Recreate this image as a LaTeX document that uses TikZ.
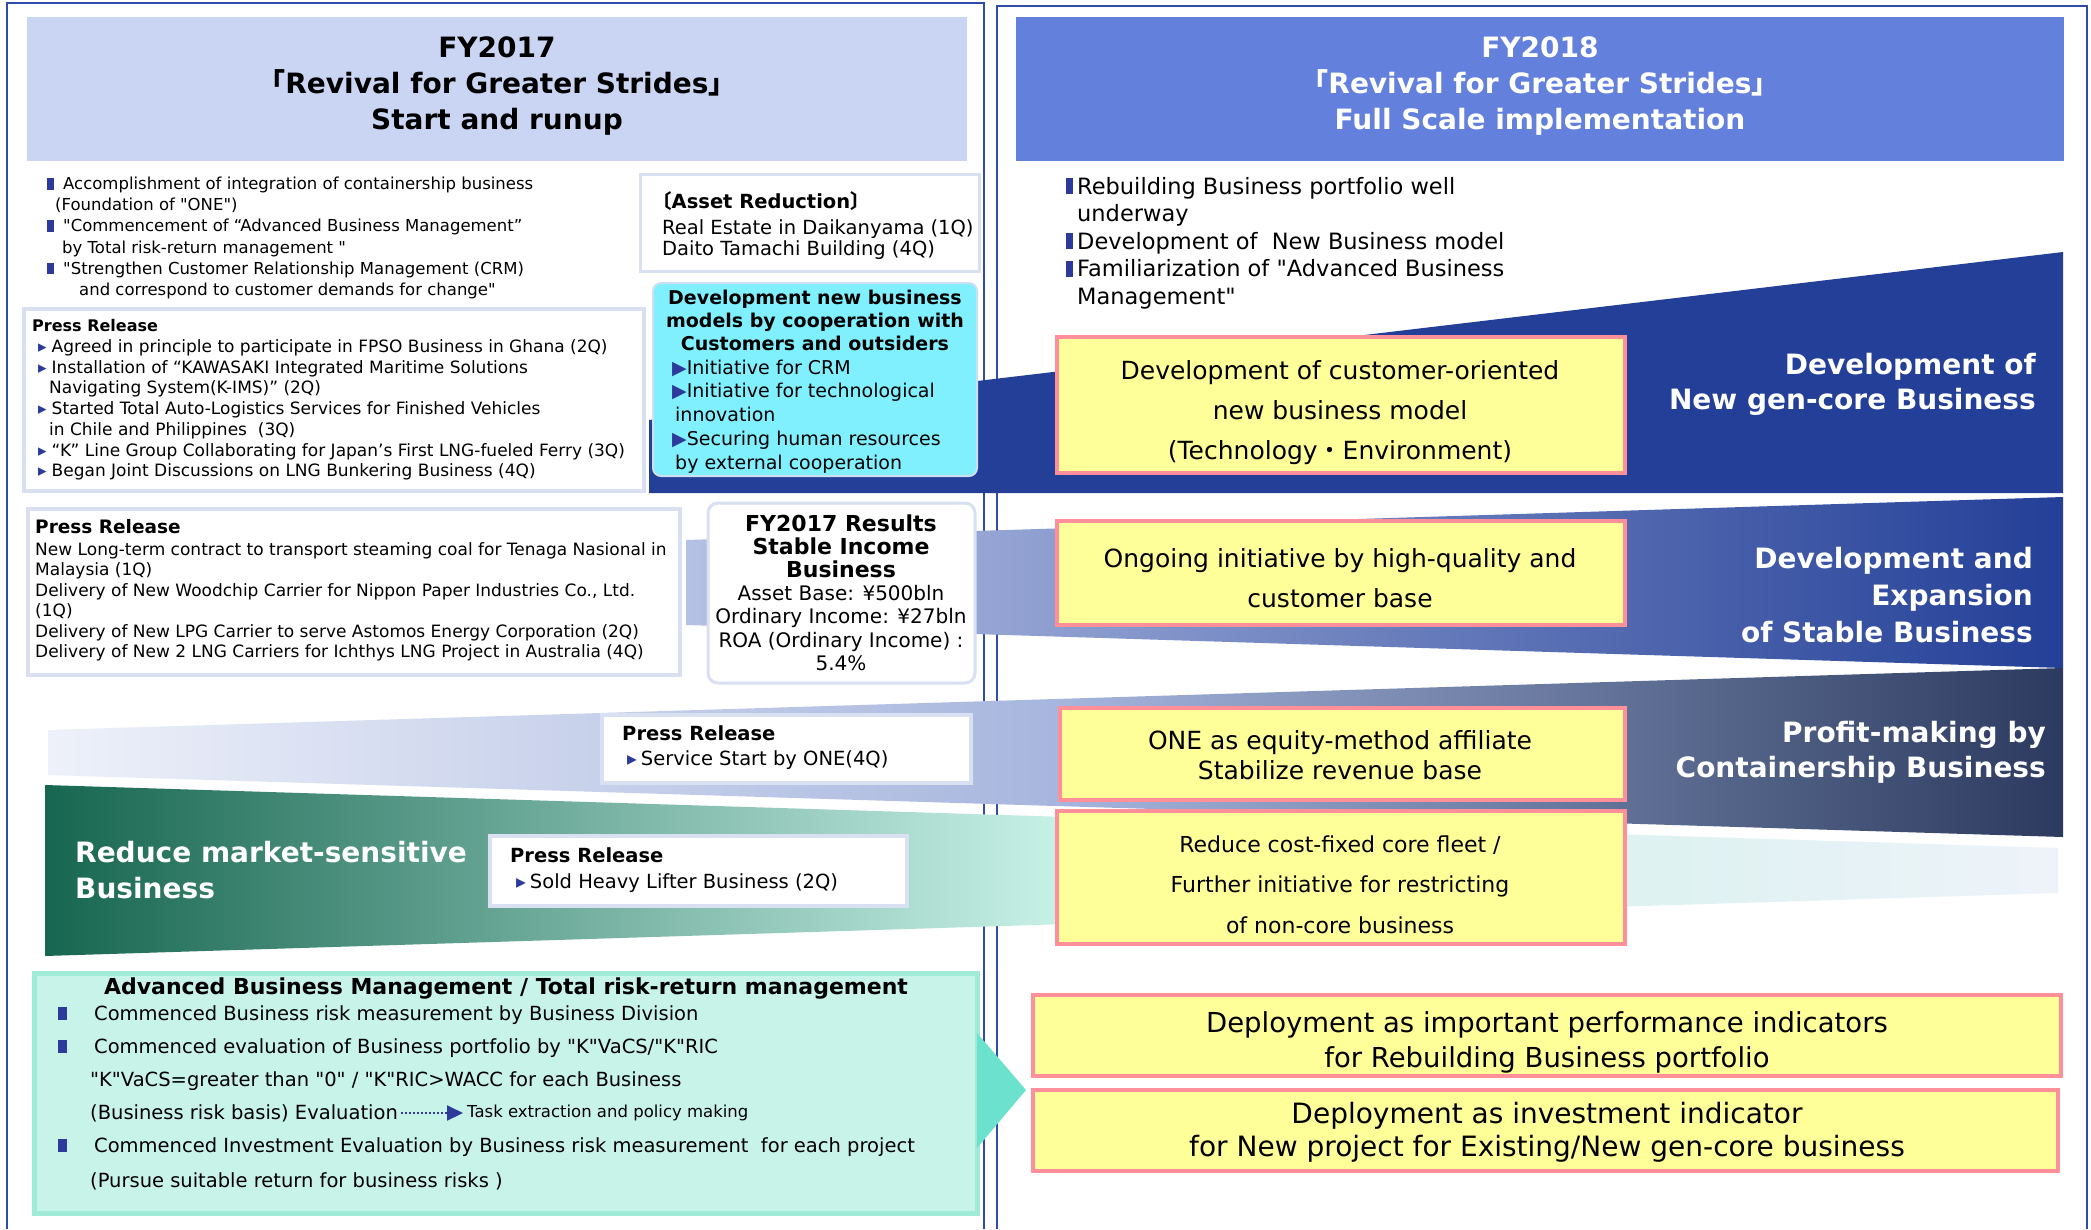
\documentclass[tikz,border=0pt]{standalone}
\usepackage{fontspec}
\setmainfont{DejaVu Sans}[Ligatures=TeXOff]
\newfontfamily\cjk{Noto Sans CJK JP}
\usetikzlibrary{arrows.meta,positioning}

\definecolor{frameblue}{HTML}{2F4CA8}
\definecolor{hdrlight}{HTML}{C9D5F2}
\definecolor{hdrdark}{HTML}{6380DD}
\definecolor{bulblue}{HTML}{2B3A9B}
\definecolor{prline}{HTML}{D8E0F1}
\definecolor{cyanfill}{HTML}{80F0FF}
\definecolor{cyanline}{HTML}{CDE0F2}
\definecolor{bandnew}{HTML}{233F97}
\definecolor{stabL}{HTML}{B4C0E4}
\definecolor{contL}{HTML}{EEF1FA}
\definecolor{contM}{HTML}{A7B6DE}
\definecolor{contR}{HTML}{2B3A5E}
\definecolor{redL}{HTML}{176650}
\definecolor{redM}{HTML}{C6F0E6}
\definecolor{redR}{HTML}{EEF3F9}
\definecolor{ylfill}{HTML}{FFFF99}
\definecolor{ylline}{HTML}{FF8F99}
\definecolor{advfill}{HTML}{C8F3E9}
\definecolor{advline}{HTML}{A0EAD8}
\definecolor{pointer}{HTML}{6CE1CD}

\newcommand{\fsz}[2]{\fontsize{#1}{#2}\selectfont}
\newcommand{\sqbul}[2]{{\color{bulblue}\rule{#1}{#2}}}
\newcommand{\prb}{{\color{bulblue}▸}}
\newcommand{\tri}{{\color{bulblue}▶}}

\begin{document}
\begin{tikzpicture}[x=1pt,y=-1pt,
  every node/.style={inner sep=0pt},
  frameln/.style={draw=frameblue,line width=1.5pt},
  hdrtxt/.style={align=center,font=\fsz{28}{36}\bfseries},
  prbox/.style={draw=prline,line width=4pt,fill=white},
  ybox/.style={draw=ylline,line width=4pt,fill=ylfill},
  ytxt/.style={align=center,font=\fsz{25}{40}},
  bandlbl/.style={text=white,font=\fsz{28}{35}\bfseries},
  dotarrow/.style={draw=bulblue,line width=2pt,dash pattern=on 2pt off 2pt,
    -{Triangle[length=16pt,width=15pt]}}]

  \useasboundingbox (0,0) rectangle (2091,1229);
  \fill[white] (0,0) rectangle (2091,1229);

  % Column frames
  \draw[frameln] (7,1229) -- (7,3) -- (984,3) -- (984,1229);
  \draw[frameln] (997,1229) -- (997,6) -- (2087,6) -- (2087,1229);

  % Headers
  \fill[hdrlight] (27,17) rectangle (967,161);
  \fill[hdrdark] (1016,17) rectangle (2064,161);
  \node[hdrtxt] (hdrL) at (497,86)
    {FY2017\\{\cjk 「}Revival for Greater Strides{\cjk 」}\\Start and runup};
  \node[hdrtxt,text=white] (hdrR) at (1540,86)
    {FY2018\\{\cjk 「}Revival for Greater Strides{\cjk 」}\\Full Scale implementation};

  % Bands (behind the boxes)
  \fill[bandnew] (649,420) -- (2063,252) -- (2063,493) -- (649,493) -- cycle;
  \shade[left color=stabL, right color=bandnew]
    (686,540) -- (2063,497) -- (2063,668) -- (686,625) -- cycle;
  \shade[left color=contL, right color=contR, middle color=contM]
    (48,730) -- (2063,668) -- (2063,837) -- (48,775) -- cycle;
  \shade[left color=redL, right color=redR, middle color=redM]
    (45,785) -- (2058,848) -- (2058,893) -- (45,956) -- cycle;

  % FY2017 summary
  \node[anchor=west,align=left,font=\fsz{16.5}{21.2}] (sumL) at (47,238)
    {\sqbul{7pt}{11.5pt}\hspace{9pt}Accomplishment of integration of containership business\\
     \hspace*{8pt}(Foundation of "ONE")\\
     \sqbul{7pt}{11.5pt}\hspace{9pt}"Commencement of “Advanced Business Management”\\
     \hspace*{15pt}by Total risk-return management "\\
     \sqbul{7pt}{11.5pt}\hspace{9pt}"Strengthen Customer Relationship Management (CRM)\\
     \hspace*{32pt}and correspond to customer demands for change"};

  % Press release (new business)
  \draw[prbox] (24,309) rectangle (644,491);
  \node[anchor=west,align=left,font=\fsz{17}{20.7}] (prNew) at (32,400)
    {{\fsz{16}{20.7}\bfseries Press Release}\\
     \hspace*{6pt}\prb\hspace{5pt}Agreed in principle to participate in FPSO Business in Ghana (2Q)\\
     \hspace*{6pt}\prb\hspace{5pt}Installation of “KAWASAKI Integrated Maritime Solutions\\
     \hspace*{17pt}Navigating System(K-IMS)” (2Q)\\
     \hspace*{6pt}\prb\hspace{5pt}Started Total Auto-Logistics Services for Finished Vehicles\\
     \hspace*{17pt}in Chile and Philippines\ \ (3Q)\\
     \hspace*{6pt}\prb\hspace{5pt}“K” Line Group Collaborating for Japan’s First LNG-fueled Ferry (3Q)\\
     \hspace*{6pt}\prb\hspace{5pt}Began Joint Discussions on LNG Bunkering Business (4Q)};

  % Asset reduction
  \draw[draw=prline,line width=3pt,fill=white] (640,174) rectangle (979,271);
  \node[anchor=west,align=left,font=\fsz{19.5}{21}] (asset) at (662,226)
    {\hspace*{-10pt}{\bfseries{\cjk 〔}Asset Reduction{\cjk 〕}}\\[5pt]
     Real Estate in Daikanyama (1Q)\\Daito Tamachi Building (4Q)};

  % Cooperation box
  \draw[draw=cyanline,line width=2pt,fill=cyanfill,rounded corners=8pt]
    (653,283) rectangle (977,476);
  \node[align=center,font=\fsz{19}{23}\bfseries] (coopT) at (815,320)
    {Development new business\\models by cooperation with\\Customers and outsiders};
  \node[anchor=west,align=left,font=\fsz{19}{23.75}] (coopI) at (672,416.5)
    {\tri Initiative for CRM\\\tri Initiative for technological\\
     \hspace*{3pt}innovation\\\tri Securing human resources\\
     \hspace*{3pt}by external cooperation};

  % FY2018 summary
  \node[anchor=west,align=left,font=\fsz{22.5}{27.5}] (sumR) at (1066,243)
    {\sqbul{7pt}{16pt}\hspace{4pt}Rebuilding Business portfolio well\\
     \hspace*{11pt}underway\\
     \sqbul{7pt}{16pt}\hspace{4pt}Development of\ \ New Business model\\
     \sqbul{7pt}{16pt}\hspace{4pt}Familiarization of "Advanced Business\\
     \hspace*{11pt}Management"};

  % Press release (stable business)
  \draw[prbox] (28,509) rectangle (680,675);
  \node[anchor=west,align=left,font=\fsz{17}{20.5}] (prStab) at (35,590)
    {{\fsz{18.5}{20.5}\bfseries Press Release}\\[1.5pt]
     New Long-term contract to transport steaming coal for Tenaga Nasional in\\
     Malaysia (1Q)\\
     Delivery of New Woodchip Carrier for Nippon Paper Industries Co., Ltd.\\
     (1Q)\\
     Delivery of New LPG Carrier to serve Astomos Energy Corporation (2Q)\\
     Delivery of New 2 LNG Carriers for Ichthys LNG Project in Australia (4Q)};

  % FY2017 results
  \draw[draw=prline,line width=3pt,fill=white,rounded corners=10pt]
    (708,503) rectangle (975,683);
  \node[align=center,font=\fsz{22}{23}\bfseries] (resT) at (841,546)
    {FY2017 Results\\Stable Income\\Business};
  \node[align=center,font=\fsz{20}{23.3}] (resV) at (841,628)
    {Asset Base: ¥500bln\\Ordinary Income: ¥27bln\\ROA (Ordinary Income) :\\5.4\%};

  % Press releases on the lower bands
  \draw[prbox] (602,715) rectangle (971,783);
  \node[anchor=west,align=left,font=\fsz{19.5}{25}] (prOne) at (622,747.5)
    {{\bfseries Press Release}\\\hspace*{5pt}\prb\hspace{4pt}Service Start by ONE(4Q)};
  \draw[prbox] (490,836) rectangle (907,906);
  \node[anchor=west,align=left,font=\fsz{19.5}{26}] (prLift) at (510,870)
    {{\bfseries Press Release}\\\hspace*{6pt}\prb\hspace{4pt}Sold Heavy Lifter Business (2Q)};

  % Yellow boxes
  \draw[ybox] (1057,337) rectangle (1625,473);
  \node[ytxt] (yNew) at (1340,413)
    {Development of customer-oriented\\new business model\\(Technology{\cjk ・}Environment)};
  \draw[ybox] (1057,521) rectangle (1625,625);
  \node[ytxt] (yStab) at (1340,578)
    {Ongoing initiative by high-quality and\\customer base};
  \draw[ybox] (1060,708) rectangle (1625,800);
  \node[ytxt,font=\fsz{25}{30}] (yOne) at (1340,755)
    {ONE as equity-method affiliate\\Stabilize revenue base};
  \draw[ybox] (1057,811) rectangle (1625,944);
  \node[ytxt,font=\fsz{22}{40.5}] (yCut) at (1340,884.5)
    {Reduce cost-fixed core fleet /\\Further initiative for restricting\\of non-core business};
  \draw[ybox] (1033,995) rectangle (2061,1076);
  \node[ytxt,font=\fsz{27.5}{35}] (yKpi) at (1547,1042.5)
    {Deployment as important performance indicators\\for Rebuilding Business portfolio};
  \draw[ybox] (1033,1090) rectangle (2058,1171);
  \node[ytxt,font=\fsz{28}{33}] (yInv) at (1547,1132.5)
    {Deployment as investment indicator\\for New project for Existing/New gen-core business};

  % Band labels
  \node[bandlbl,anchor=east,align=right] (lblNew) at (2036,384)
    {Development of\\New gen-core Business};
  \node[bandlbl,anchor=east,align=right,font=\fsz{28}{37}\bfseries] (lblStab) at (2033,595)
    {Development and\\Expansion\\of Stable Business};
  \node[bandlbl,anchor=east,align=right] (lblCont) at (2046,752.5)
    {Profit-making by\\Containership Business};
  \node[bandlbl,anchor=west,align=left,font=\fsz{28}{36}\bfseries] (lblRed) at (75,870)
    {Reduce market-sensitive\\Business};

  % Advanced business management
  \draw[draw=advline,line width=5pt,fill=advfill] (34,973) rectangle (977,1213);
  \fill[pointer] (977,1033) -- (1026,1090) -- (977,1148) -- cycle;
  \node[font=\fsz{22}{22}\bfseries] (advT) at (506,989)
    {Advanced Business Management / Total risk-return management};
  \node[anchor=west,align=left,font=\fsz{19.5}{33}] (advA) at (58,1048)
    {\sqbul{9pt}{13pt}\hspace{27pt}Commenced Business risk measurement by Business Division\\
     \sqbul{9pt}{13pt}\hspace{27pt}Commenced evaluation of Business portfolio by "K"VaCS/"K"RIC\\
     \hspace*{32pt}"K"VaCS=greater than "0" / "K"RIC>WACC for each Business};
  \node[anchor=west,font=\fsz{19.5}{33}] (eval) at (90,1113)
    {(Business risk basis) Evaluation};
  \node[anchor=west,font=\fsz{16.5}{20}] (task) at (467,1113)
    {Task extraction and policy making};
  \draw[dotarrow] ([xshift=3pt]eval.east) -- ([xshift=-4pt]task.west);
  \node[anchor=west,align=left,font=\fsz{19.5}{35}] (advB) at (58,1163.5)
    {\sqbul{9pt}{13pt}\hspace{27pt}Commenced Investment Evaluation by Business risk measurement\ \ for each project\\
     \hspace*{32pt}(Pursue suitable return for business risks )};

\end{tikzpicture}
\end{document}
